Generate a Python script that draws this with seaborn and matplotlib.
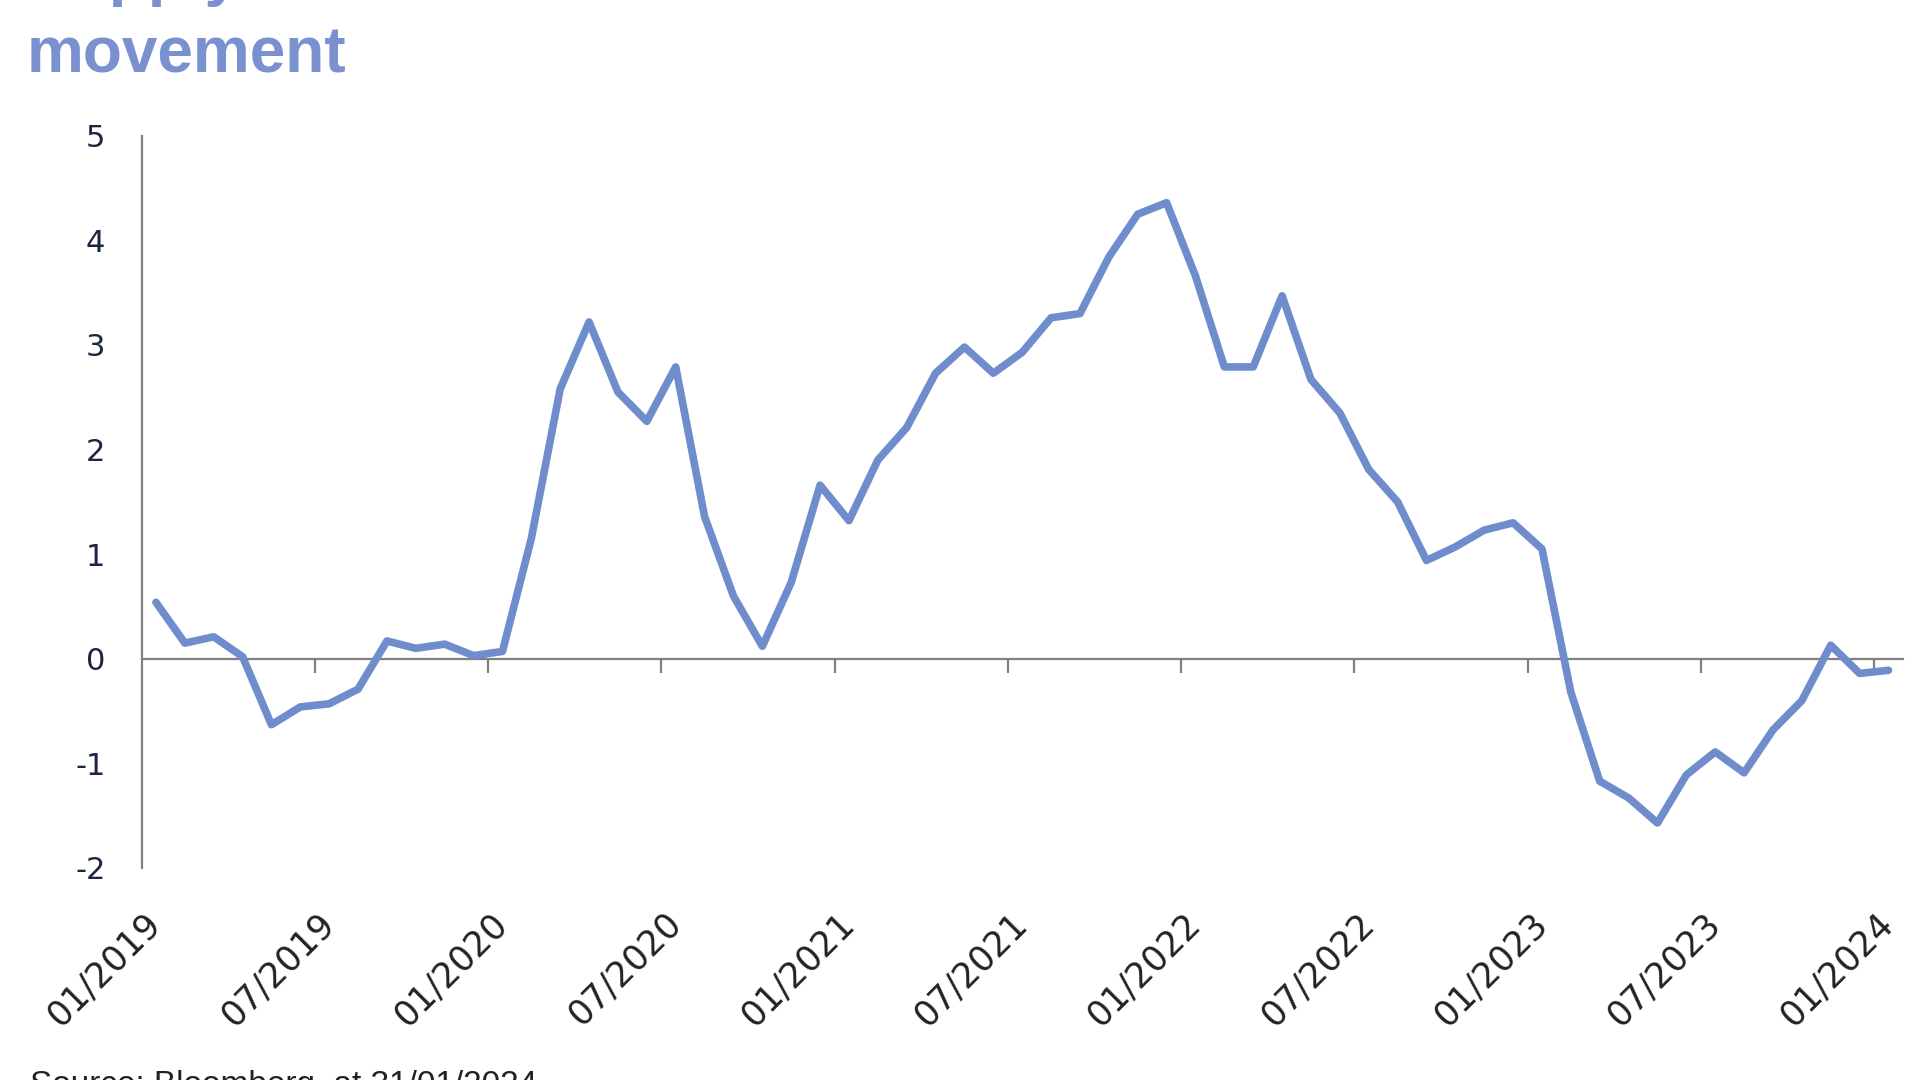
import numpy as np
import pandas as pd
import seaborn as sns
import matplotlib.pyplot as plt

# monthly index, Jan 2019 - Jan 2024
months = pd.date_range("2019-01-01", "2024-01-01", freq="MS").strftime("%m/%Y").tolist()
gscpi = [0.54, 0.15, 0.21, 0.02, -0.63, -0.46, -0.43, -0.29, 0.17, 0.10,
         0.14, 0.03, 0.07, 1.15, 2.58, 3.22, 2.55, 2.27, 2.79, 1.36,
         0.60, 0.12, 0.73, 1.66, 1.32, 1.90, 2.21, 2.73, 2.98, 2.73,
         2.93, 3.26, 3.30, 3.84, 4.25, 4.36, 3.66, 2.79, 2.79, 3.47,
         2.67, 2.35, 1.81, 1.50, 0.94, 1.07, 1.23, 1.30, 1.05, -0.32,
         -1.17, -1.33, -1.57, -1.11, -0.89, -1.09, -0.68, -0.40, 0.13, -0.14,
         -0.11]
yticks = [-2, -1, 0, 1, 2, 3, 4, 5]
title = "Supply chain normalisation is behind a fast disinflation\nmovement"
source = "Source: Bloomberg, at 31/01/2024"

line_col = "#6f8dcd"
title_col = "#7b90cf"
axis_col = "#808080"

sns.set_style("white")
plt.rcParams['font.family'] = ['DejaVu Sans']

df = pd.DataFrame({"pos": np.arange(len(months)), "month": months, "value": gscpi})

fig = plt.figure(figsize=(19.2, 10.8), dpi=100)
ax = fig.add_axes([0.0737, 0.1963, 0.9174, 0.678])
sns.lineplot(data=df, x="pos", y="value", color=line_col, linewidth=5.5, ax=ax)

ax.set_xlim(-0.5, len(months) - 0.5)
ax.set_ylim(-2, 5)
ax.set_xlabel("")
ax.set_ylabel("")

# y axis
ax.set_yticks(yticks)
ax.set_yticklabels([str(t) for t in yticks], fontsize=22, color="#1c2541")
ax.tick_params(axis="y", length=0, pad=26)
ax.spines["left"].set_color(axis_col)
ax.spines["left"].set_linewidth(1.6)
for s in ["top", "right", "bottom"]:
    ax.spines[s].set_visible(False)

# category labels every 6 months, shown under the plot
lab_pos = df["pos"][::6]
ax.set_xticks(lab_pos)
ax.set_xticklabels(df["month"][::6], rotation=45, ha="right", va="center",
                   rotation_mode="anchor", fontsize=25, color="#222222")
ax.tick_params(axis="x", length=0, pad=36)

# zero axis line with boundary ticks
zero_frac = (0 - (-2)) / 7
sec = ax.secondary_xaxis(zero_frac)
sec.spines["bottom"].set_color(axis_col)
sec.spines["bottom"].set_linewidth(1.6)
sec.set_xticks(df["pos"][::6][1:] - 0.5)
sec.set_xticklabels([])
sec.tick_params(axis="x", direction="out", length=10, width=1.6, color=axis_col)

# title and source run off the top/bottom edge as in the original crop
fig.text(0.0141, 0.933, title, fontsize=46, fontweight="bold", color=title_col,
         family="Liberation Sans", va="baseline", ha="left", linespacing=1.4)
fig.text(0.0155, -0.013, source, fontsize=24, color="#222222",
         family="Liberation Sans", va="baseline", ha="left")

fig.savefig("out.png", dpi=100)
